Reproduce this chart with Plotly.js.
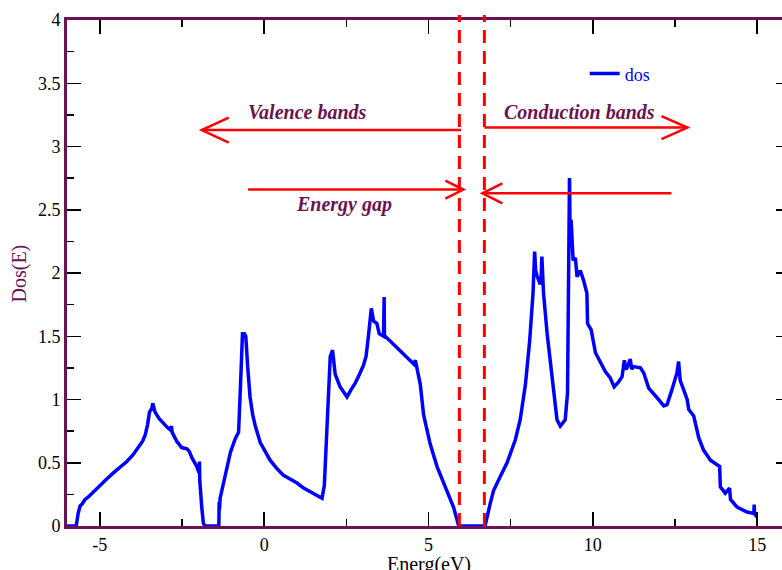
<!DOCTYPE html>
<html>
<head>
<meta charset="utf-8">
<script src="https://cdn.plot.ly/plotly-3.0.1.min.js"></script>
<style>
html,body{margin:0;padding:0;overflow:hidden;background:#fff;}
#chart{width:800px;height:570px;}
</style>
</head>
<body>
<div id="chart"></div>
<script>
// Energy (eV) samples of the density of states curve
var energy = [
  -6.0, -5.72, -5.66, -5.60, -5.55, -5.45, -5.35, -5.20, -4.99, -4.80,
  -4.59, -4.40, -4.18, -4.00, -3.83, -3.70, -3.62, -3.55, -3.49, -3.42,
  -3.39, -3.36, -3.32, -3.20, -3.07, -2.95, -2.86, -2.82, -2.80, -2.75,
  -2.66, -2.51, -2.35, -2.28, -2.20, -2.05, -1.98, -1.97, -1.96, -1.90,
  -1.85, -1.80,
  -1.38, -1.37, -1.36, -1.34, -1.24, -1.10, -1.03, -0.88, -0.80, -0.78,
  -0.73, -0.68, -0.66, -0.60, -0.56, -0.50, -0.43, -0.35, -0.27, -0.12,
  0.05, 0.18, 0.40, 0.59, 0.80, 1.00, 1.20, 1.40, 1.60, 1.76,
  1.83, 1.91, 2.01, 2.08, 2.16, 2.31, 2.42, 2.52, 2.65, 2.77,
  2.90, 3.02, 3.10, 3.13, 3.18, 3.26, 3.30, 3.33, 3.43, 3.50,
  3.63, 3.64, 3.65, 3.66, 3.68, 3.84, 4.00, 4.14, 4.30, 4.44,
  4.55, 4.60, 4.68, 4.75, 4.85, 5.05, 5.26, 5.40, 5.56, 5.76,
  5.92,
  6.72, 6.88, 6.98, 7.18, 7.39, 7.64, 7.79, 7.95, 8.08, 8.18,
  8.23, 8.26, 8.30, 8.40, 8.43, 8.45, 8.47, 8.50, 8.61, 8.76,
  8.91, 9.01, 9.16, 9.23, 9.27, 9.29, 9.31, 9.34, 9.40, 9.47,
  9.52, 9.62, 9.72, 9.82, 9.84, 9.95, 10.08, 10.23, 10.38, 10.53,
  10.65, 10.79, 10.89, 10.96, 11.00, 11.04, 11.14, 11.18, 11.24, 11.45,
  11.55, 11.70, 11.85, 12.00, 12.16, 12.26, 12.41, 12.56, 12.61, 12.66,
  12.76, 12.87, 12.92, 13.07, 13.22, 13.37, 13.58, 13.83, 13.86, 13.88,
  14.03, 14.16, 14.17, 14.19, 14.39, 14.69, 14.90, 14.91, 14.92, 14.93,
  15.0
];
// Density of states values
var dos = [
  0, 0, 0.10, 0.16, 0.17, 0.21, 0.23, 0.27, 0.32, 0.37,
  0.42, 0.46, 0.51, 0.56, 0.62, 0.67, 0.72, 0.80, 0.90, 0.93,
  0.97, 0.93, 0.90, 0.85, 0.81, 0.78, 0.76, 0.79, 0.74, 0.71,
  0.67, 0.62, 0.61, 0.59, 0.54, 0.47, 0.42, 0.51, 0.36, 0.15,
  0.02, 0,
  0, 0.19, 0.13, 0.22, 0.33, 0.48, 0.58, 0.69, 0.73, 0.74,
  1.05, 1.45, 1.52, 1.52, 1.50, 1.25, 1.02, 0.88, 0.79, 0.66,
  0.58, 0.52, 0.45, 0.40, 0.37, 0.34, 0.30, 0.27, 0.24, 0.22,
  0.32, 0.80, 1.34, 1.39, 1.20, 1.10, 1.06, 1.02, 1.08, 1.13,
  1.20, 1.27, 1.34, 1.40, 1.52, 1.72, 1.66, 1.62, 1.60, 1.52,
  1.50, 1.81, 1.81, 1.50, 1.50, 1.46, 1.42, 1.38, 1.34, 1.31,
  1.28, 1.31, 1.22, 1.12, 0.88, 0.65, 0.47, 0.38, 0.27, 0.15,
  0,
  0, 0.18, 0.28, 0.39, 0.50, 0.68, 0.84, 1.12, 1.47, 1.84,
  2.17, 2.02, 1.98, 1.91, 1.98, 2.13, 1.95, 1.84, 1.52, 1.18,
  0.84, 0.79, 0.84, 1.05, 1.84, 2.75, 2.30, 2.42, 2.10, 2.12,
  1.97, 2.02, 1.94, 1.84, 1.60, 1.55, 1.37, 1.30, 1.22, 1.17,
  1.10, 1.14, 1.18, 1.31, 1.24, 1.25, 1.32, 1.24, 1.26, 1.25,
  1.21, 1.09, 1.04, 1.00, 0.95, 0.96, 1.08, 1.21, 1.30, 1.15,
  1.08, 1.00, 0.92, 0.87, 0.70, 0.60, 0.52, 0.47, 0.47, 0.31,
  0.26, 0.30, 0.22, 0.21, 0.15, 0.11, 0.10, 0.17, 0.10, 0.09,
  0.07
];

// tick labels
var xTickVals = [-5, 0, 5, 10, 15];
var xTickText = ["-5", "0", "5", "10", "15"];

// band edges (eV)
var gapEdges = [5.94, 6.70];

// annotation texts and anchor positions
var labelTexts = ["Valence bands", "Conduction bands", "Energy gap"];
var labelX = [1.32, 9.59, 2.42];
var labelY = [3.27, 3.27, 2.54];

// arrows: tail -> tip in data units
var arrowTailX = [5.99, 6.70, -0.49, 12.39];
var arrowTipX  = [-1.90, 12.88, 6.06, 6.64];
var arrowY     = [3.13, 3.15, 2.66, 2.63];
var arrowHeadLen = [27, 26, 18, 20];
var arrowHeadHalf = [12.5, 11.5, 9, 10];

var purple = '#6b1352';
var serif = 'Liberation Serif, Times New Roman, serif';

var shapes = [];
gapEdges.forEach(function (e) {
  shapes.push({
    type: 'line', xref: 'x', yref: 'paper', x0: e, x1: e, y0: 0, y1: 1.01,
    line: {color: '#ff0000', width: 3, dash: '13px,8px'}
  });
});
for (var i = 0; i < arrowTipX.length; i++) {
  shapes.push({
    type: 'line', xref: 'x', yref: 'y',
    x0: arrowTailX[i], x1: arrowTipX[i], y0: arrowY[i], y1: arrowY[i],
    line: {color: '#ff0000', width: 2.5}
  });
  var dir = arrowTipX[i] < arrowTailX[i] ? 1 : -1;
  var L = arrowHeadLen[i] * dir, H = arrowHeadHalf[i];
  shapes.push({
    type: 'path', xref: 'x', yref: 'y',
    xsizemode: 'pixel', ysizemode: 'pixel',
    xanchor: arrowTipX[i], yanchor: arrowY[i],
    path: 'M' + L + ',' + H + ' L0,0 L' + L + ',' + (-H),
    line: {color: '#ff0000', width: 2.5}
  });
}

var annotations = labelTexts.map(function (t, k) {
  return {
    x: labelX[k], y: labelY[k], xref: 'x', yref: 'y', text: t, showarrow: false,
    font: {family: serif, size: 20, color: purple, weight: 'bold', style: 'italic'}
  };
});
// axis titles
annotations.push({
  x: 0.5, y: -0.077, xref: 'paper', yref: 'paper', xanchor: 'center', yanchor: 'middle',
  text: 'Energ(eV)', showarrow: false, font: {family: serif, size: 20, color: '#000'}
});
annotations.push({
  x: -0.0657, y: 0.5, xref: 'paper', yref: 'paper', xanchor: 'center', yanchor: 'middle',
  text: 'Dos(E)', textangle: -90, showarrow: false, font: {family: serif, size: 20, color: purple}
});

var trace = {
  x: energy, y: dos, type: 'scatter', mode: 'lines', name: 'dos',
  line: {color: '#0000ff', width: 3.5}
};

var axisCommon = {
  showgrid: false, zeroline: false, showline: true, linecolor: purple, linewidth: 3,
  mirror: 'allticks', ticks: 'inside', ticklen: 14, tickwidth: 1.5, tickcolor: '#000',
  tickfont: {family: serif, size: 18, color: '#000'}
};

var layout = {
  width: 800, height: 570,
  margin: {l: 67, r: 10, t: 20, b: 44},
  paper_bgcolor: '#fff', plot_bgcolor: '#fff',
  showlegend: true,
  legend: {
    x: 0.716, y: 0.93, xanchor: 'left', yanchor: 'top',
    bgcolor: 'rgba(0,0,0,0)', itemwidth: 30,
    font: {family: serif, size: 18, color: '#0000ff'}
  },
  xaxis: Object.assign({}, axisCommon, {
    range: [-6, 16],
    tickmode: 'array', tickvals: xTickVals, ticktext: xTickText,
    minor: {tickmode: 'linear', tick0: 0, dtick: 2.5, ticklen: 7, tickwidth: 1.5, tickcolor: '#000', ticks: 'inside'}
  }),
  yaxis: Object.assign({}, axisCommon, {
    range: [0, 4], dtick: 0.5, tick0: 0,
    minor: {tickmode: 'linear', tick0: 0, dtick: 0.25, ticklen: 7, tickwidth: 1.5, tickcolor: '#000', ticks: 'inside'}
  }),
  shapes: shapes,
  annotations: annotations
};

Plotly.newPlot('chart', [trace], layout, {displayModeBar: false, staticPlot: true});
</script>
</body>
</html>
